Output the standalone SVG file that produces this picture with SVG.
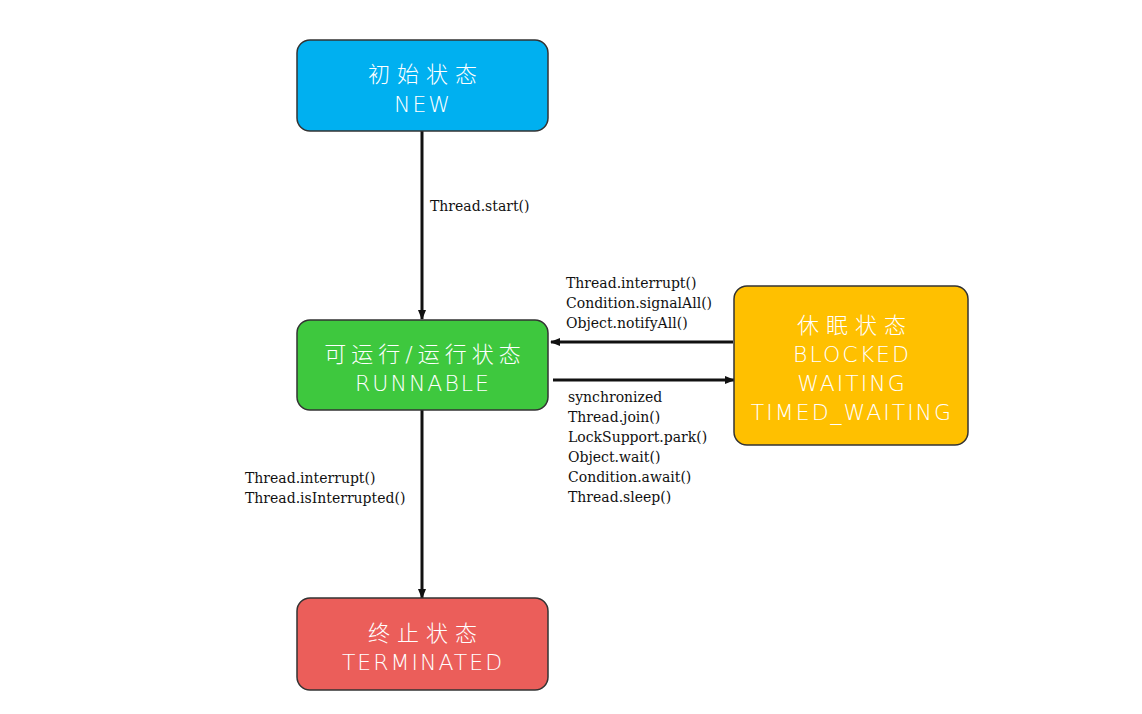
<svg xmlns="http://www.w3.org/2000/svg" width="1142" height="714" viewBox="0 0 1142 714">
<style>
.box{stroke:#333;stroke-width:1.5}
.nt{fill:#fff;font-family:"DejaVu Sans","Noto Sans CJK SC",sans-serif;font-weight:200;font-size:22px;text-anchor:middle;letter-spacing:2px}
.cn{letter-spacing:7px}
.lb{fill:#111;font-family:"DejaVu Serif",serif;font-size:14px}
.ln{stroke:#111;stroke-width:3;fill:none}
</style>
<defs>
<marker id="ah" markerWidth="10" markerHeight="8" refX="9" refY="4" orient="auto" markerUnits="userSpaceOnUse"><path d="M0,0 L10,4 L0,8 Z" fill="#111"/></marker>
</defs>
<rect width="1142" height="714" fill="#fff"/>
<g id="connectors">
<line class="ln" x1="422" y1="131" x2="422" y2="319" marker-end="url(#ah)"/>
<line class="ln" x1="422" y1="410" x2="422" y2="598" marker-end="url(#ah)"/>
<line class="ln" x1="733" y1="342" x2="551" y2="342" marker-end="url(#ah)"/>
<line class="ln" x1="553" y1="380" x2="734" y2="380" marker-end="url(#ah)"/>
<text class="lb" x="430" y="211">Thread.start()</text>
<text class="lb" x="566" y="288">Thread.interrupt()</text>
<text class="lb" x="566" y="308">Condition.signalAll()</text>
<text class="lb" x="566" y="328">Object.notifyAll()</text>
<text class="lb" x="568" y="402">synchronized</text>
<text class="lb" x="568" y="422">Thread.join()</text>
<text class="lb" x="568" y="442">LockSupport.park()</text>
<text class="lb" x="568" y="462">Object.wait()</text>
<text class="lb" x="568" y="482">Condition.await()</text>
<text class="lb" x="568" y="502">Thread.sleep()</text>
<text class="lb" x="245" y="483">Thread.interrupt()</text>
<text class="lb" x="245" y="503">Thread.isInterrupted()</text>
</g>
<g id="new">
<rect class="box" x="297" y="40" width="251" height="91" rx="13" fill="#00B0F0"/>
<text class="nt cn" x="426" y="82">初始状态</text>
<text class="nt" x="423" y="112">NEW</text>
</g>
<g id="runnable">
<rect class="box" x="297" y="320" width="251" height="90" rx="13" fill="#3EC83E"/>
<text class="nt" x="425" y="362" style="letter-spacing:5px">可运行/运行状态</text>
<text class="nt" x="423" y="391">RUNNABLE</text>
</g>
<g id="blocked">
<rect class="box" x="734" y="286" width="234" height="159" rx="13" fill="#FFC000"/>
<text class="nt cn" x="855" y="333">休眠状态</text>
<text class="nt" x="852" y="362">BLOCKED</text>
<text class="nt" x="852" y="391">WAITING</text>
<text class="nt" x="852" y="420">TIMED_WAITING</text>
</g>
<g id="terminated">
<rect class="box" x="297" y="598" width="251" height="92" rx="13" fill="#EB5E5A"/>
<text class="nt cn" x="426" y="641">终止状态</text>
<text class="nt" x="423" y="670">TERMINATED</text>
</g>
</svg>
